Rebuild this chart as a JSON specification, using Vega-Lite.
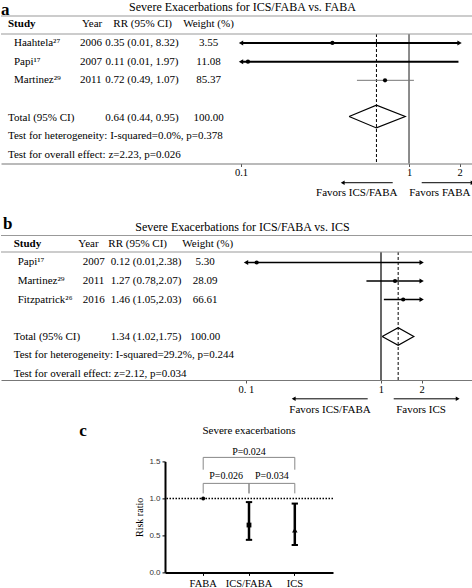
{
 "$schema": "https://vega.github.io/schema/vega-lite/v6.json",
 "padding": 0,
 "background": "white",
 "config": {"view": {"stroke": null}, "font": "Liberation Serif", "axis": {"grid": false}},
 "bounds": "flush",
 "spacing": 81.2,
 "datasets": {
  "tableA": [
   {"row": 0, "label": "Study", "year_h": "Year", "rr_h": "RR (95% CI)", "weight_h": "Weight (%)"},
   {"row": 1, "name": "Haahtela²⁷", "year": "2006", "rr_text": "0.35 (0.01, 8.32)", "weight": "3.55", "rr": 0.35, "lo": 0.01, "hi": 8.32},
   {"row": 2, "name": "Papi¹⁷", "year": "2007", "rr_text": "0.11 (0.01, 1.97)", "weight": "11.08", "rr": 0.11, "lo": 0.01, "hi": 1.97},
   {"row": 3, "name": "Martinez²⁹", "year": "2011", "rr_text": "0.72 (0.49, 1.07)", "weight": "85.37", "rr": 0.72, "lo": 0.49, "hi": 1.07},
   {"row": 5, "label": "Total (95% CI)", "rr_text": "0.64 (0.44, 0.95)", "weight": "100.00"},
   {"row": 6, "label": "Test for heterogeneity: I-squared=0.0%, p=0.378"},
   {"row": 7, "label": "Test for overall effect: z=2.23, p=0.026"}
  ],
  "diamondA": [
   {"rr": 0.44, "row": 4.94, "ord": 0}, {"rr": 0.64, "row": 4.33, "ord": 1}, {"rr": 0.95, "row": 4.94, "ord": 2}, {"rr": 0.64, "row": 5.55, "ord": 3}, {"rr": 0.44, "row": 4.94, "ord": 4}
  ],
  "favorsA": [
   {"text": "Favors ICS/FABA", "from": 0.8, "to": 0.403, "mid": 0.489},
   {"text": "Favors FABA", "from": 1.19, "to": 2.39, "mid": 1.525}
  ],
  "tableB": [
   {"row": 0, "label": "Study", "year_h": "Year", "rr_h": "RR (95% CI)", "weight_h": "Weight (%)"},
   {"row": 1, "name": "Papi¹⁷", "year": "2007", "rr_text": "0.12 (0.01,2.38)", "weight": "5.30", "rr": 0.12, "lo": 0.01, "hi": 2.38},
   {"row": 2, "name": "Martinez²⁹", "year": "2011", "rr_text": "1.27 (0.78,2.07)", "weight": "28.09", "rr": 1.27, "lo": 0.78, "hi": 2.07},
   {"row": 3, "name": "Fitzpatrick²⁶", "year": "2016", "rr_text": "1.46 (1.05,2.03)", "weight": "66.61", "rr": 1.46, "lo": 1.05, "hi": 2.03},
   {"row": 5, "label": "Total (95% CI)", "rr_text": "1.34 (1.02,1.75)", "weight": "100.00"},
   {"row": 6, "label": "Test for heterogeneity: I-squared=29.2%, p=0.244"},
   {"row": 7, "label": "Test for overall effect: z=2.12, p=0.034"}
  ],
  "diamondB": [
   {"rr": 1.02, "row": 5, "ord": 0}, {"rr": 1.34, "row": 4.52, "ord": 1}, {"rr": 1.75, "row": 5, "ord": 2}, {"rr": 1.34, "row": 5.48, "ord": 3}, {"rr": 1.02, "row": 5, "ord": 4}
  ],
  "favorsB": [
   {"text": "Favors ICS/FABA", "from": 0.797, "to": 0.2255, "mid": 0.419},
   {"text": "Favors ICS", "from": 1.242, "to": 3.7, "mid": 1.98}
  ],
  "groupsC": [
   {"group": "FABA", "rr": 1.0},
   {"group": "ICS/FABA", "rr": 0.64, "lo": 0.44, "hi": 0.95},
   {"group": "ICS", "rr": 0.57, "lo": 0.37, "hi": 0.93}
  ],
  "bracketsC": [
   {"from": "FABA", "to": "ICS", "p": "P=0.024"},
   {"from": "FABA", "to": "ICS/FABA", "p": "P=0.026"},
   {"from": "ICS/FABA", "to": "ICS", "p": "P=0.034"}
  ]
 },
 "vconcat": [
  {
   "width": 472, "height": 147.5,
   "resolve": {"scale": {"x": "independent"}},
   "layer": [
    {"layer": [
     {"data": {"values": [{}]},
      "mark": {"type": "rule", "color": "#666", "strokeWidth": 1.5},
      "encoding": {
       "x": {"datum": 1, "type": "quantitative", "scale": {"type": "log", "domain": [0.0037276, 2.4036], "nice": false},
             "axis": {"orient": "bottom", "values": [0.1, 1, 2], "format": "~g", "title": null, "domainColor": "#777", "domainWidth": 1.2, "tickColor": "#555", "tickSize": 3, "labelFontSize": 10.5, "labelColor": "black", "labelPadding": 1, "labelFlush": false, "labelOverlap": false}},
       "y": {"datum": 0.52, "type": "quantitative", "scale": {"domain": [-0.445, 7.455], "reverse": true, "nice": false, "zero": false}, "axis": null},
       "y2": {"datum": 7.455}}},
     {"data": {"values": [{}]},
      "mark": {"type": "rule", "color": "black", "strokeWidth": 1, "strokeDash": [3, 2]},
      "encoding": {"x": {"datum": 0.64, "type": "quantitative"}, "y": {"datum": 0.52, "type": "quantitative"}, "y2": {"datum": 7.455}}},
     {"data": {"values": [{}]},
      "mark": {"type": "rule", "color": "#999", "strokeWidth": 1.2},
      "encoding": {"y": {"datum": -0.445, "type": "quantitative"}}},
     {"data": {"values": [{}]},
      "mark": {"type": "rule", "color": "#999", "strokeWidth": 1.2},
      "encoding": {"y": {"datum": 0.52, "type": "quantitative"}}},
     {"data": {"name": "favorsA"},
      "mark": {"type": "rule", "color": "black", "strokeWidth": 1},
      "encoding": {"x": {"field": "from", "type": "quantitative"}, "x2": {"field": "to"}, "y": {"datum": 8.484, "type": "quantitative"}}},
     {"data": {"name": "favorsA"}, "transform": [{"filter": "datum.to < datum.from"}],
      "mark": {"type": "point", "shape": "triangle-left", "filled": true, "color": "black", "opacity": 1, "size": 20},
      "encoding": {"x": {"field": "to", "type": "quantitative"}, "y": {"datum": 8.484, "type": "quantitative"}}},
     {"data": {"name": "favorsA"}, "transform": [{"filter": "datum.to > datum.from"}],
      "mark": {"type": "point", "shape": "triangle-right", "filled": true, "color": "black", "opacity": 1, "size": 20},
      "encoding": {"x": {"field": "to", "type": "quantitative"}, "y": {"datum": 8.484, "type": "quantitative"}}},
     {"data": {"name": "favorsA"},
      "mark": {"type": "text", "fontSize": 11, "baseline": "middle", "align": "center", "color": "black"},
      "encoding": {"x": {"field": "mid", "type": "quantitative"}, "y": {"datum": 9.036, "type": "quantitative"}, "text": {"field": "text"}}}
    ]},
    {"data": {"name": "tableA"},
     "layer": [
     {"transform": [{"filter": "isValid(datum.lo) && (datum.lo < 0.1 || datum.hi > 2)"}],
      "mark": {"type": "rule", "color": "black", "strokeWidth": 2},
      "encoding": {"x": {"field": "lo", "type": "quantitative", "scale": {"type": "log", "domain": [0.1, 2], "range": [240, 458.57], "clamp": true, "nice": false}, "axis": null},
                   "x2": {"field": "hi"}, "y": {"field": "row", "type": "quantitative"}}},
     {"transform": [{"filter": "isValid(datum.lo) && datum.lo >= 0.1 && datum.hi <= 2"}],
      "mark": {"type": "rule", "color": "#777", "strokeWidth": 1},
      "encoding": {"x": {"field": "lo", "type": "quantitative"}, "x2": {"field": "hi"}, "y": {"field": "row", "type": "quantitative"}}},
     {"transform": [{"filter": "isValid(datum.lo) && datum.lo < 0.1"}],
      "mark": {"type": "point", "shape": "triangle-left", "filled": true, "color": "black", "opacity": 1, "size": 25},
      "encoding": {"x": {"field": "lo", "type": "quantitative"}, "y": {"field": "row", "type": "quantitative"}}},
     {"transform": [{"filter": "isValid(datum.hi) && datum.hi > 2"}],
      "mark": {"type": "point", "shape": "triangle-right", "filled": true, "color": "black", "opacity": 1, "size": 25},
      "encoding": {"x": {"field": "hi", "type": "quantitative"}, "y": {"field": "row", "type": "quantitative"}}},
     {"transform": [{"filter": "isValid(datum.rr)"}],
      "mark": {"type": "point", "shape": "circle", "filled": true, "color": "black", "opacity": 1, "size": 18},
      "encoding": {"x": {"field": "rr", "type": "quantitative"}, "y": {"field": "row", "type": "quantitative"}}},
     {"data": {"name": "diamondA"},
      "mark": {"type": "line", "color": "black", "strokeWidth": 1.2},
      "encoding": {"x": {"field": "rr", "type": "quantitative"}, "y": {"field": "row", "type": "quantitative"}, "order": {"field": "ord", "type": "quantitative"}}}
    ]},
    {"data": {"name": "tableA"},
     "layer": [
     {"transform": [{"filter": "datum.row == 0"}],
      "mark": {"type": "text", "fontSize": 11, "fontWeight": "bold", "baseline": "middle", "align": "left", "color": "black"},
      "encoding": {"x": {"datum": 1, "type": "quantitative", "scale": {"type": "linear", "domain": [0, 1, 2, 3, 4, 5, 6, 7, 8, 9], "range": [0, 7, 13, 81, 79, 141.7, 141, 207.5, 207.5, 241.5], "nice": false, "zero": false}, "axis": null},
                   "y": {"field": "row", "type": "quantitative"}, "text": {"field": "label"}}},
     {"transform": [{"filter": "datum.row != 0 && isValid(datum.label)"}],
      "mark": {"type": "text", "fontSize": 11, "baseline": "middle", "align": "left", "color": "black"},
      "encoding": {"x": {"datum": 1, "type": "quantitative"}, "y": {"field": "row", "type": "quantitative"}, "text": {"field": "label"}}},
     {"transform": [{"filter": "isValid(datum.name)"}],
      "mark": {"type": "text", "fontSize": 11, "baseline": "middle", "align": "left", "color": "black"},
      "encoding": {"x": {"datum": 2, "type": "quantitative"}, "y": {"field": "row", "type": "quantitative"}, "text": {"field": "name"}}},
     {"transform": [{"filter": "isValid(datum.year_h)"}],
      "mark": {"type": "text", "fontSize": 11, "baseline": "middle", "align": "left", "color": "black"},
      "encoding": {"x": {"datum": 3, "type": "quantitative"}, "y": {"field": "row", "type": "quantitative"}, "text": {"field": "year_h"}}},
     {"transform": [{"filter": "isValid(datum.year)"}],
      "mark": {"type": "text", "fontSize": 11, "baseline": "middle", "align": "left", "color": "black"},
      "encoding": {"x": {"datum": 4, "type": "quantitative"}, "y": {"field": "row", "type": "quantitative"}, "text": {"field": "year"}}},
     {"transform": [{"filter": "isValid(datum.rr_h)"}],
      "mark": {"type": "text", "fontSize": 11, "baseline": "middle", "align": "center", "color": "black"},
      "encoding": {"x": {"datum": 5, "type": "quantitative"}, "y": {"field": "row", "type": "quantitative"}, "text": {"field": "rr_h"}}},
     {"transform": [{"filter": "isValid(datum.rr_text)"}],
      "mark": {"type": "text", "fontSize": 11, "baseline": "middle", "align": "center", "color": "black"},
      "encoding": {"x": {"datum": 6, "type": "quantitative"}, "y": {"field": "row", "type": "quantitative"}, "text": {"field": "rr_text"}}},
     {"transform": [{"filter": "isValid(datum.weight_h)"}],
      "mark": {"type": "text", "fontSize": 11, "baseline": "middle", "align": "center", "color": "black"},
      "encoding": {"x": {"datum": 7, "type": "quantitative"}, "y": {"field": "row", "type": "quantitative"}, "text": {"field": "weight_h"}}},
     {"transform": [{"filter": "isValid(datum.weight)"}],
      "mark": {"type": "text", "fontSize": 11, "baseline": "middle", "align": "center", "color": "black"},
      "encoding": {"x": {"datum": 8, "type": "quantitative"}, "y": {"field": "row", "type": "quantitative"}, "text": {"field": "weight"}}},
     {"data": {"values": [{"letter": "a"}]},
      "mark": {"type": "text", "fontSize": 17, "fontWeight": "bold", "baseline": "middle", "align": "left", "color": "black"},
      "encoding": {"x": {"datum": 0, "type": "quantitative"}, "y": {"datum": -0.793, "type": "quantitative"}, "text": {"field": "letter"}}},
     {"data": {"values": [{"title": "Severe Exacerbations for ICS/FABA vs. FABA"}]},
      "mark": {"type": "text", "fontSize": 12, "baseline": "middle", "align": "center", "color": "black"},
      "encoding": {"x": {"datum": 9, "type": "quantitative"}, "y": {"datum": -0.927, "type": "quantitative"}, "text": {"field": "title"}}}
    ]}
   ]
  },
  {
   "width": 472, "height": 134.8,
   "resolve": {"scale": {"x": "independent"}},
   "layer": [
    {"layer": [
     {"data": {"values": [{}]},
      "mark": {"type": "rule", "color": "black", "strokeWidth": 1.2},
      "encoding": {
       "x": {"datum": 1, "type": "quantitative", "scale": {"type": "log", "domain": [0.0015317, 4.8028], "nice": false},
             "axis": {"orient": "bottom", "values": [0.1, 1, 2], "format": "~g", "labelExpr": "datum.value < 0.5 ? '0. 1' : datum.label", "title": null, "domainColor": "#777", "domainWidth": 1.2, "tickColor": "#555", "tickSize": 3, "labelFontSize": 10.5, "labelColor": "black", "labelPadding": 1, "labelFlush": false, "labelOverlap": false}},
       "y": {"datum": 0.432, "type": "quantitative", "scale": {"domain": [0.065, 7.351], "reverse": true, "nice": false, "zero": false}, "axis": null},
       "y2": {"datum": 7.351}}},
     {"data": {"values": [{}]},
      "mark": {"type": "rule", "color": "black", "strokeWidth": 1, "strokeDash": [3, 2]},
      "encoding": {"x": {"datum": 1.34, "type": "quantitative"}, "y": {"datum": 0.432, "type": "quantitative"}, "y2": {"datum": 7.351}}},
     {"data": {"values": [{}]},
      "mark": {"type": "rule", "color": "#999", "strokeWidth": 1.2},
      "encoding": {"y": {"datum": -0.459, "type": "quantitative"}}},
     {"data": {"values": [{}]},
      "mark": {"type": "rule", "color": "#999", "strokeWidth": 1.2},
      "encoding": {"y": {"datum": 0.432, "type": "quantitative"}}},
     {"data": {"name": "favorsB"},
      "mark": {"type": "rule", "color": "black", "strokeWidth": 1},
      "encoding": {"x": {"field": "from", "type": "quantitative"}, "x2": {"field": "to"}, "y": {"datum": 8.368, "type": "quantitative"}}},
     {"data": {"name": "favorsB"}, "transform": [{"filter": "datum.to < datum.from"}],
      "mark": {"type": "point", "shape": "triangle-left", "filled": true, "color": "black", "opacity": 1, "size": 20},
      "encoding": {"x": {"field": "to", "type": "quantitative"}, "y": {"datum": 8.368, "type": "quantitative"}}},
     {"data": {"name": "favorsB"}, "transform": [{"filter": "datum.to > datum.from"}],
      "mark": {"type": "point", "shape": "triangle-right", "filled": true, "color": "black", "opacity": 1, "size": 20},
      "encoding": {"x": {"field": "to", "type": "quantitative"}, "y": {"datum": 8.368, "type": "quantitative"}}},
     {"data": {"name": "favorsB"},
      "mark": {"type": "text", "fontSize": 11, "baseline": "middle", "align": "center", "color": "black"},
      "encoding": {"x": {"field": "mid", "type": "quantitative"}, "y": {"datum": 8.946, "type": "quantitative"}, "text": {"field": "text"}}}
    ]},
    {"data": {"name": "tableB"},
     "layer": [
     {"transform": [{"filter": "isValid(datum.lo)"}],
      "mark": {"type": "rule", "color": "black", "strokeWidth": 1.5},
      "encoding": {"x": {"field": "lo", "type": "quantitative", "scale": {"type": "log", "domain": [0.1, 2], "range": [245, 420.64], "clamp": true, "nice": false}, "axis": null},
                   "x2": {"field": "hi"}, "y": {"field": "row", "type": "quantitative"}}},
     {"transform": [{"filter": "isValid(datum.lo) && datum.lo < 0.1"}],
      "mark": {"type": "point", "shape": "triangle-left", "filled": true, "color": "black", "opacity": 1, "size": 25},
      "encoding": {"x": {"field": "lo", "type": "quantitative"}, "y": {"field": "row", "type": "quantitative"}}},
     {"transform": [{"filter": "isValid(datum.hi) && datum.hi > 2"}],
      "mark": {"type": "point", "shape": "triangle-right", "filled": true, "color": "black", "opacity": 1, "size": 25},
      "encoding": {"x": {"field": "hi", "type": "quantitative"}, "y": {"field": "row", "type": "quantitative"}}},
     {"transform": [{"filter": "isValid(datum.rr)"}],
      "mark": {"type": "point", "shape": "circle", "filled": true, "color": "black", "opacity": 1, "size": 18},
      "encoding": {"x": {"field": "rr", "type": "quantitative"}, "y": {"field": "row", "type": "quantitative"}}},
     {"data": {"name": "diamondB"},
      "mark": {"type": "line", "color": "black", "strokeWidth": 1.2},
      "encoding": {"x": {"field": "rr", "type": "quantitative"}, "y": {"field": "row", "type": "quantitative"}, "order": {"field": "ord", "type": "quantitative"}}}
    ]},
    {"data": {"name": "tableB"},
     "layer": [
     {"transform": [{"filter": "datum.row == 0"}],
      "mark": {"type": "text", "fontSize": 11, "fontWeight": "bold", "baseline": "middle", "align": "left", "color": "black"},
      "encoding": {"x": {"datum": 1, "type": "quantitative", "scale": {"type": "linear", "domain": [0, 1, 2, 3, 4, 5, 6, 7, 8, 9], "range": [2, 12.7, 16.7, 77.3, 81.7, 136.7, 145, 206.7, 204, 241.5], "nice": false, "zero": false}, "axis": null},
                   "y": {"field": "row", "type": "quantitative"}, "text": {"field": "label"}}},
     {"transform": [{"filter": "datum.row != 0 && isValid(datum.label)"}],
      "mark": {"type": "text", "fontSize": 11, "baseline": "middle", "align": "left", "color": "black"},
      "encoding": {"x": {"datum": 1, "type": "quantitative"}, "y": {"field": "row", "type": "quantitative"}, "text": {"field": "label"}}},
     {"transform": [{"filter": "isValid(datum.name)"}],
      "mark": {"type": "text", "fontSize": 11, "baseline": "middle", "align": "left", "color": "black"},
      "encoding": {"x": {"datum": 2, "type": "quantitative"}, "y": {"field": "row", "type": "quantitative"}, "text": {"field": "name"}}},
     {"transform": [{"filter": "isValid(datum.year_h)"}],
      "mark": {"type": "text", "fontSize": 11, "baseline": "middle", "align": "left", "color": "black"},
      "encoding": {"x": {"datum": 3, "type": "quantitative"}, "y": {"field": "row", "type": "quantitative"}, "text": {"field": "year_h"}}},
     {"transform": [{"filter": "isValid(datum.year)"}],
      "mark": {"type": "text", "fontSize": 11, "baseline": "middle", "align": "left", "color": "black"},
      "encoding": {"x": {"datum": 4, "type": "quantitative"}, "y": {"field": "row", "type": "quantitative"}, "text": {"field": "year"}}},
     {"transform": [{"filter": "isValid(datum.rr_h)"}],
      "mark": {"type": "text", "fontSize": 11, "baseline": "middle", "align": "center", "color": "black"},
      "encoding": {"x": {"datum": 5, "type": "quantitative"}, "y": {"field": "row", "type": "quantitative"}, "text": {"field": "rr_h"}}},
     {"transform": [{"filter": "isValid(datum.rr_text)"}],
      "mark": {"type": "text", "fontSize": 11, "baseline": "middle", "align": "center", "color": "black"},
      "encoding": {"x": {"datum": 6, "type": "quantitative"}, "y": {"field": "row", "type": "quantitative"}, "text": {"field": "rr_text"}}},
     {"transform": [{"filter": "isValid(datum.weight_h)"}],
      "mark": {"type": "text", "fontSize": 11, "baseline": "middle", "align": "center", "color": "black"},
      "encoding": {"x": {"datum": 7, "type": "quantitative"}, "y": {"field": "row", "type": "quantitative"}, "text": {"field": "weight_h"}}},
     {"transform": [{"filter": "isValid(datum.weight)"}],
      "mark": {"type": "text", "fontSize": 11, "baseline": "middle", "align": "center", "color": "black"},
      "encoding": {"x": {"datum": 8, "type": "quantitative"}, "y": {"field": "row", "type": "quantitative"}, "text": {"field": "weight"}}},
     {"data": {"values": [{"letter": "b"}]},
      "mark": {"type": "text", "fontSize": 17, "fontWeight": "bold", "baseline": "middle", "align": "left", "color": "black"},
      "encoding": {"x": {"datum": 0, "type": "quantitative"}, "y": {"datum": -1.076, "type": "quantitative"}, "text": {"field": "letter"}}},
     {"data": {"values": [{"title": "Severe Exacerbations for ICS/FABA vs. ICS"}]},
      "mark": {"type": "text", "fontSize": 12, "baseline": "middle", "align": "center", "color": "black"},
      "encoding": {"x": {"datum": 9, "type": "quantitative"}, "y": {"datum": -0.92, "type": "quantitative"}, "text": {"field": "title"}}}
    ]}
   ]
  },
  {
   "hconcat": [
    {"width": 164, "height": 111,
     "data": {"values": [{"letter": "c"}]},
     "mark": {"type": "text", "fontSize": 17, "fontWeight": "bold", "baseline": "middle", "align": "center", "color": "black"},
     "encoding": {"text": {"field": "letter"}, "y": {"datum": 1.915, "type": "quantitative", "scale": {"domain": [0, 1.5], "nice": false, "zero": false}, "axis": null}}},
    {"width": 168, "height": 111,
     "layer": [
      {"data": {"name": "groupsC"}, "transform": [{"filter": "isValid(datum.lo)"}],
       "mark": {"type": "rule", "color": "black", "strokeWidth": 2.5},
       "encoding": {"x": {"field": "group", "type": "nominal", "scale": {"type": "band", "domain": ["FABA", "ICS/FABA", "ICS"], "paddingInner": 0, "paddingOuter": 0.334},
        "axis": {"title": null, "labelAngle": 0, "domainWidth": 2, "domainColor": "black", "tickColor": "black", "tickSize": 3, "bandPosition": 0.5, "labelFontSize": 10.5, "labelColor": "black", "labelPadding": 3}},
        "y": {"field": "lo", "type": "quantitative", "scale": {"domain": [0, 1.5], "nice": false, "zero": false},
         "axis": {"title": "Risk ratio", "tickCount": 3, "format": ".1f", "labelOverlap": false, "labelFlush": false, "domainWidth": 2, "domainColor": "black", "tickColor": "black", "tickSize": 3, "labelFont": "Liberation Sans", "labelFontSize": 8, "labelColor": "#333", "labelPadding": 2, "titleFont": "Liberation Serif", "titleFontSize": 10, "titleFontWeight": "normal", "titleColor": "black", "titlePadding": 4}},
        "y2": {"field": "hi"}}},
      {"data": {"values": [{}]},
       "mark": {"type": "rule", "color": "black", "strokeWidth": 1.5, "strokeDash": [1.5, 1.5]},
       "encoding": {"y": {"datum": 1, "type": "quantitative"}}},
      {"data": {"name": "groupsC"}, "transform": [{"filter": "isValid(datum.lo)"}],
       "mark": {"type": "point", "shape": "stroke", "color": "black", "strokeWidth": 2, "size": 40, "opacity": 1},
       "encoding": {"x": {"field": "group", "type": "nominal"}, "y": {"field": "lo", "type": "quantitative"}}},
      {"data": {"name": "groupsC"}, "transform": [{"filter": "isValid(datum.hi)"}],
       "mark": {"type": "point", "shape": "stroke", "color": "black", "strokeWidth": 2, "size": 40, "opacity": 1},
       "encoding": {"x": {"field": "group", "type": "nominal"}, "y": {"field": "hi", "type": "quantitative"}}},
      {"data": {"name": "groupsC"},
       "mark": {"type": "point", "filled": true, "color": "black", "opacity": 1},
       "encoding": {"x": {"field": "group", "type": "nominal"}, "y": {"field": "rr", "type": "quantitative"},
        "shape": {"field": "group", "type": "nominal", "scale": {"domain": ["FABA", "ICS/FABA", "ICS"], "range": ["circle", "square", "triangle-up"]}, "legend": null},
        "size": {"field": "group", "type": "ordinal", "scale": {"domain": ["FABA", "ICS/FABA", "ICS"], "range": [16, 30, 12]}, "legend": null}}},
      {"data": {"name": "bracketsC"}, "transform": [{"filter": "datum.from == 'FABA' && datum.to == 'ICS'"}],
       "mark": {"type": "rule", "color": "#888", "strokeWidth": 1},
       "encoding": {"x": {"field": "from", "type": "nominal"}, "x2": {"field": "to"}, "y": {"datum": 1.554, "type": "quantitative"}}},
      {"data": {"name": "bracketsC"}, "transform": [{"filter": "datum.from == 'FABA' && datum.to == 'ICS'"}, {"fold": ["from", "to"]}],
       "mark": {"type": "rule", "color": "#888", "strokeWidth": 1},
       "encoding": {"x": {"field": "value", "type": "nominal"}, "y": {"datum": 1.388, "type": "quantitative"}, "y2": {"datum": 1.554}}},
      {"data": {"name": "bracketsC"}, "transform": [{"filter": "!(datum.from == 'FABA' && datum.to == 'ICS')"}],
       "mark": {"type": "rule", "color": "#888", "strokeWidth": 1},
       "encoding": {"x": {"field": "from", "type": "nominal"}, "x2": {"field": "to"}, "y": {"datum": 1.203, "type": "quantitative"}}},
      {"data": {"name": "bracketsC"}, "transform": [{"filter": "!(datum.from == 'FABA' && datum.to == 'ICS')"}, {"fold": ["from", "to"]}],
       "mark": {"type": "rule", "color": "#888", "strokeWidth": 1},
       "encoding": {"x": {"field": "value", "type": "nominal"}, "y": {"datum": 1.068, "type": "quantitative"}, "y2": {"datum": 1.203}}},
      {"data": {"name": "bracketsC"}, "transform": [{"filter": "datum.from == 'FABA' && datum.to == 'ICS'"}],
       "mark": {"type": "text", "fontSize": 10, "baseline": "middle", "align": "center", "color": "black"},
       "encoding": {"x": {"datum": "ICS/FABA", "type": "nominal", "bandPosition": 0.5}, "y": {"datum": 1.631, "type": "quantitative"}, "text": {"field": "p"}}},
      {"data": {"name": "bracketsC"}, "transform": [{"filter": "!(datum.from == 'FABA' && datum.to == 'ICS')"}],
       "mark": {"type": "text", "fontSize": 10, "baseline": "middle", "align": "center", "color": "black"},
       "encoding": {"x": {"field": "to", "type": "nominal", "bandPosition": 0}, "y": {"datum": 1.307, "type": "quantitative"}, "text": {"field": "p"}}},
      {"data": {"values": [{"title": "Severe exacerbations"}]},
       "mark": {"type": "text", "fontSize": 11, "baseline": "middle", "align": "center", "color": "black"},
       "encoding": {"x": {"datum": "ICS/FABA", "type": "nominal", "bandPosition": 0.5}, "y": {"datum": 1.915, "type": "quantitative"}, "text": {"field": "title"}}}
     ]}
   ],
   "spacing": 0,
   "bounds": "flush"
  }
 ]
}
